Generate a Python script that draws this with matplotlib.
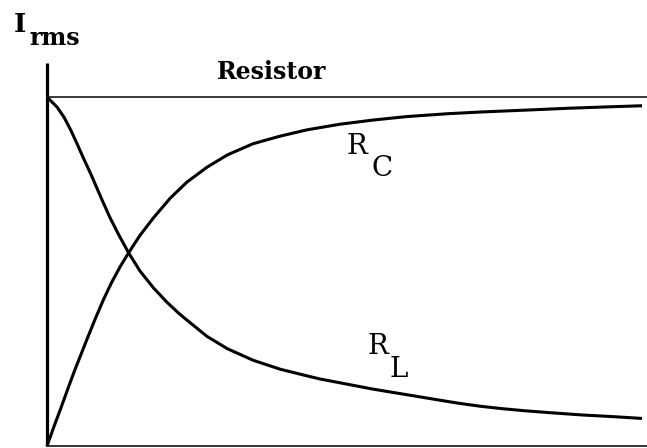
import matplotlib
matplotlib.use("Agg")
import matplotlib.pyplot as plt

# frequency (normalised) and I_rms (normalised)
freq_L = [0.0, 0.017, 0.029, 0.040, 0.050, 0.062, 0.074, 0.092, 0.106, 0.120,
          0.137, 0.156, 0.179, 0.201, 0.221, 0.235, 0.269, 0.303, 0.346, 0.392,
          0.437, 0.459, 0.548, 0.672, 0.694, 0.728, 0.765, 0.803, 0.849, 0.899,
          0.953, 1.0]
irms_L = [1.0, 0.971, 0.941, 0.905, 0.868, 0.822, 0.778, 0.707, 0.654, 0.607,
          0.554, 0.502, 0.453, 0.413, 0.381, 0.361, 0.314, 0.279, 0.246, 0.220,
          0.201, 0.192, 0.163, 0.128, 0.122, 0.114, 0.107, 0.101, 0.095, 0.089,
          0.084, 0.079]

freq_C = [0.0, 0.012, 0.024, 0.034, 0.045, 0.057, 0.067, 0.081, 0.095, 0.109,
          0.123, 0.137, 0.156, 0.179, 0.207, 0.235, 0.269, 0.303, 0.346, 0.392,
          0.437, 0.492, 0.548, 0.605, 0.672, 0.728, 0.812, 0.879, 0.946, 1.0]
irms_C = [0.0, 0.057, 0.112, 0.159, 0.210, 0.262, 0.305, 0.364, 0.420, 0.470,
          0.514, 0.553, 0.603, 0.654, 0.710, 0.756, 0.799, 0.834, 0.866, 0.888,
          0.906, 0.922, 0.934, 0.944, 0.952, 0.957, 0.963, 0.968, 0.972, 0.975]

irms_R = 1.0

fig = plt.figure(figsize=(6.47, 4.48), dpi=100)
ax = fig.add_axes([0, 0, 1, 1])
ax.set_xlim(-0.079, 1.0084)
ax.set_ylim(-0.0057, 1.278)
ax.axis("off")

# axes lines
ax.plot([0, 0], [0, 1.097], color="black", lw=2.3, solid_capstyle="butt")
ax.plot([0, 1.0084], [0, 0], color="#333333", lw=1.4)

# curves
ax.plot([0, 1.0084], [irms_R, irms_R], color="#2a2a2a", lw=1.3)
ax.plot(freq_L, irms_L, color="black", lw=2.2, solid_capstyle="butt")
ax.plot(freq_C, irms_C, color="black", lw=2.2, solid_capstyle="butt")

serif = "DejaVu Serif"
ax.text(-0.0555, 1.186, "I", family=serif, weight="bold", fontsize=19)
ax.text(-0.030, 1.149, "rms", family=serif, weight="bold", fontsize=17)
ax.text(0.286, 1.052, "Resistor", family=serif, weight="bold", fontsize=17)

ax.text(0.504, 0.837, "R", family=serif, fontsize=20)
ax.text(0.546, 0.774, "C", family=serif, fontsize=20)
ax.text(0.538, 0.264, "R", family=serif, fontsize=20)
ax.text(0.575, 0.198, "L", family=serif, fontsize=20)

fig.savefig("out.png", dpi=100)
